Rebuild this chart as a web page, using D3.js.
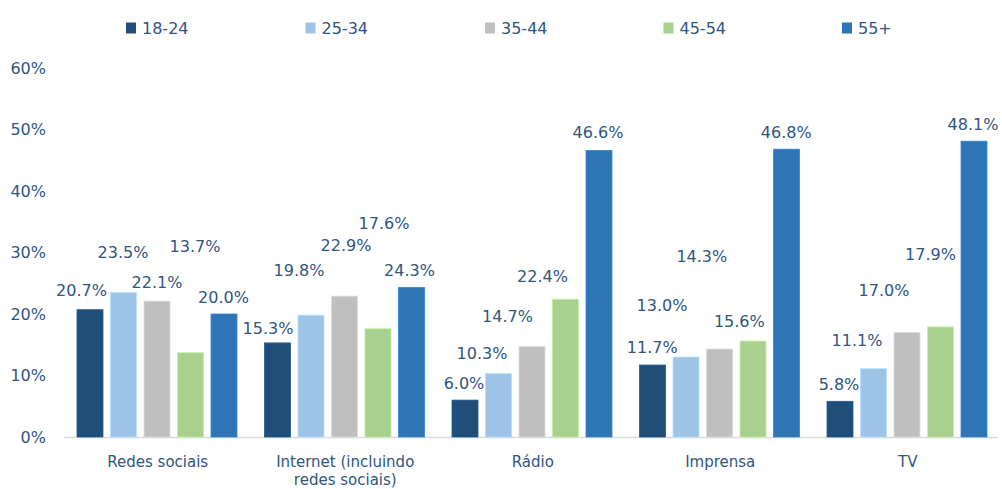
<!DOCTYPE html>
<html>
<head>
<meta charset="utf-8">
<script src="https://cdn.jsdelivr.net/npm/d3@7/dist/d3.min.js"></script>
<style>
  html, body { margin: 0; padding: 0; background: #ffffff; }
  svg { display: block; }
  text { font-family: "DejaVu Sans", Verdana, sans-serif; fill: #30557f; }
</style>
</head>
<body>
<svg id="chart" width="1002" height="489"></svg>
<script>
// ---- Data ----
const categories = ["Redes sociais", "Internet (incluindo redes sociais)", "Rádio", "Imprensa", "TV"];
const categoryLines = [["Redes sociais"], ["Internet (incluindo", "redes sociais)"], ["Rádio"], ["Imprensa"], ["TV"]];
const seriesNames = ["18-24", "25-34", "35-44", "45-54", "55+"];
const s18_24 = [20.7, 15.3, 6.0, 11.7, 5.8];
const s25_34 = [23.5, 19.8, 10.3, 13.0, 11.1];
const s35_44 = [22.1, 22.9, 14.7, 14.3, 17.0];
const s45_54 = [13.7, 17.6, 22.4, 15.6, 17.9];
const s55p   = [20.0, 24.3, 46.6, 46.8, 48.1];
const seriesValues = [s18_24, s25_34, s35_44, s45_54, s55p];
const yTicks = [0, 10, 20, 30, 40, 50, 60];

// ---- Styles / label placement (as in the source image) ----
const colors = ["#1f4e79", "#9dc3e6", "#bfbfbf", "#a9d18e", "#2e75b6"];
// label horizontal shift (px) from bar centre, per series per category
const labelDx = [
  [-8.5, -9.5, -1, -0.3, -1],
  [-0.5, -12, -16.5, -24, -16.5],
  [0, 1.5, -24.5, -17.7, -23],
  [4.5, 6, -23, -13.7, -10],
  [-0.5, -2, -1, -0.3, -1]
];
// label lift (px) of text centre above bar top
const labelLift = [
  [19.7, 15, 17, 18, 17],
  [40, 45, 20, 52, 28],
  [19, 51, 30, 93, 42.5],
  [107, 106, 23.5, 20, 72.7],
  [17, 17.6, 18, 17, 17]
];

const svg = d3.select("#chart");

const y = d3.scaleLinear().domain([0, 60]).range([437, 68]);
const x0 = d3.scaleBand().domain(categories).range([64, 1001.5]).padding(0);
const x1 = d3.scaleBand().domain(seriesNames).range([13, 173]).paddingInner(0.224).paddingOuter(0);

// Y axis tick labels
const yAxis = d3.axisLeft(y).tickValues(yTicks).tickFormat(d => d + "%").tickSize(0).tickPadding(0);
const yg = svg.append("g").attr("transform", "translate(46,0)").call(yAxis);
yg.select(".domain").remove();
yg.selectAll("text")
  .attr("font-size", 16)
  .attr("fill", "#30557f")
  .style("font-family", "'DejaVu Sans', Verdana, sans-serif");

// Baseline
svg.append("line")
  .attr("x1", 64).attr("x2", 998)
  .attr("y1", y(0) + 0.5).attr("y2", y(0) + 0.5)
  .attr("stroke", "#d9d9d9").attr("stroke-width", 1.5);

// Bars
const groups = svg.selectAll("g.cat")
  .data(categories)
  .enter().append("g")
  .attr("class", "cat")
  .attr("transform", d => `translate(${x0(d)},0)`);

groups.each(function(cat, ci) {
  const g = d3.select(this);
  seriesNames.forEach((s, si) => {
    const v = seriesValues[si][ci];
    g.append("rect")
      .attr("x", x1(s))
      .attr("y", y(v))
      .attr("width", x1.bandwidth())
      .attr("height", y(0) - y(v))
      .attr("fill", colors[si])
      .attr("stroke", d3.color(colors[si]).brighter(0.4))
      .attr("stroke-width", 0.8);
  });
  seriesNames.forEach((s, si) => {
    const v = seriesValues[si][ci];
    g.append("text")
      .attr("x", x1(s) + x1.bandwidth() / 2 + labelDx[si][ci])
      .attr("y", y(v) - labelLift[si][ci])
      .attr("dy", "0.36em")
      .attr("text-anchor", "middle")
      .attr("font-size", 16)
      .text(v.toFixed(1) + "%");
  });
  // category label
  const lines = categoryLines[ci];
  const t = g.append("text")
    .attr("x", x0.bandwidth() / 2)
    .attr("y", 462)
    .attr("text-anchor", "middle")
    .attr("font-size", 15);
  lines.forEach((ln, li) => {
    t.append("tspan")
      .attr("x", x0.bandwidth() / 2)
      .attr("dy", li === 0 ? "0.36em" : "18px")
      .text(ln);
  });
});

// Legend
const legendX = [126, 305.5, 485, 663.5, 842];
const lg = svg.append("g");
seriesNames.forEach((s, i) => {
  lg.append("rect")
    .attr("x", legendX[i]).attr("y", 22.5)
    .attr("width", 10).attr("height", 11)
    .attr("fill", colors[i]);
  lg.append("text")
    .attr("x", legendX[i] + 16).attr("y", 28)
    .attr("dy", "0.36em")
    .attr("font-size", 16)
    .text(s);
});
</script>
</body>
</html>
